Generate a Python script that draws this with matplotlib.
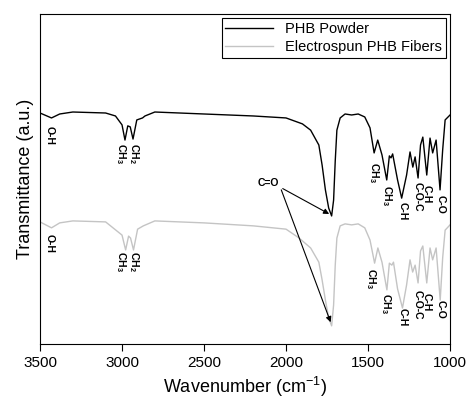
import matplotlib
matplotlib.use("Agg")
import matplotlib.pyplot as plt

plt.rcParams["font.family"] = ["Liberation Sans", "DejaVu Sans"]
plt.rcParams["mathtext.fontset"] = "custom"
plt.rcParams["mathtext.rm"] = "Liberation Sans"
plt.rcParams["mathtext.bf"] = "Liberation Sans:bold"

# ---------------- Data ----------------
wn_powder = [3500, 3430, 3380, 3300, 3100, 3040, 3000, 2982, 2965, 2950, 2933, 2910,
             2875, 2860, 2800, 2500, 2200, 2000, 1900, 1850, 1800, 1780, 1760, 1740,
             1722, 1710, 1700, 1690, 1670, 1640, 1600, 1560, 1520, 1488, 1463, 1441,
             1415, 1386, 1370, 1360, 1350, 1320, 1295, 1265, 1244, 1227, 1213, 1195,
             1180, 1166, 1142, 1122, 1106, 1085, 1061, 1045, 1030, 1000]
t_powder = [70.0, 68.5, 69.7, 70.3, 70.0, 69.1, 66.4, 61.8, 66.1, 65.8, 62.1, 67.9,
            68.5, 69.1, 70.3, 69.7, 69.1, 68.5, 66.7, 64.8, 60.3, 54.2, 46.7, 41.2,
            38.8, 43.6, 55.5, 64.8, 68.5, 69.7, 69.4, 69.7, 68.8, 65.5, 57.9, 61.8,
            57.3, 49.7, 57.0, 56.4, 57.6, 49.7, 44.2, 51.2, 58.2, 53.6, 56.7, 50.3,
            60.3, 62.7, 51.2, 62.4, 57.9, 61.8, 46.7, 58.8, 67.9, 69.4]

wn_fibers = [3500, 3430, 3380, 3300, 3100, 3000, 2978, 2960, 2948, 2930, 2905, 2870,
             2800, 2500, 2200, 2000, 1920, 1850, 1800, 1780, 1760, 1740, 1722, 1710,
             1700, 1690, 1670, 1640, 1600, 1560, 1520, 1488, 1460, 1440, 1415, 1385,
             1370, 1355, 1345, 1320, 1290, 1265, 1244, 1228, 1213, 1195, 1180, 1166,
             1142, 1122, 1106, 1085, 1060, 1045, 1030, 1000]
t_fibers = [37.0, 35.2, 36.7, 37.3, 37.0, 33.0, 28.5, 32.7, 32.1, 28.5, 34.8, 35.8,
            37.3, 36.7, 35.8, 34.8, 32.1, 29.1, 24.8, 19.4, 13.3, 7.9, 5.5, 11.8,
            23.9, 32.1, 35.8, 36.4, 36.1, 36.4, 35.2, 31.5, 24.5, 29.1, 24.8, 16.4,
            24.5, 23.9, 24.8, 16.7, 10.9, 17.9, 25.5, 21.8, 23.9, 18.5, 28.2, 29.7,
            18.5, 29.1, 25.5, 29.1, 13.3, 26.1, 34.5, 36.1]

# band labels: (text, wavenumber, y of label top)
labels_powder = [("O-H", 3440, 66.1), ("CH$_\\mathbf{3}$", 3008, 60.9),
                 ("CH$_\\mathbf{2}$", 2925, 60.9), ("CH$_\\mathbf{3}$", 1463, 55.2),
                 ("CH$_\\mathbf{3}$", 1385, 48.2), ("C-H", 1290, 43.0),
                 ("C-O-C", 1195, 49.1), ("C-H", 1140, 48.2), ("C-O", 1060, 45.2)]
labels_fibers = [("O-H", 3440, 33.3), ("CH$_\\mathbf{3}$", 3008, 28.2),
                 ("CH$_\\mathbf{2}$", 2925, 28.2), ("CH$_\\mathbf{3}$", 1480, 23.0),
                 ("CH$_\\mathbf{3}$", 1390, 15.5), ("C-H", 1290, 10.9),
                 ("C-O-C", 1195, 16.4), ("C-H", 1140, 15.5), ("C-O", 1055, 13.3)]

xticks = [3500, 3000, 2500, 2000, 1500, 1000]

# ---------------- Plot ----------------
fig = plt.figure(figsize=(4.67, 4.0), dpi=100)
ax = fig.add_axes([0.0857, 0.14, 0.878, 0.825])

ax.plot(wn_powder, t_powder, color="black", lw=1.0, label="PHB Powder")
ax.plot(wn_fibers, t_fibers, color="#c4c4c4", lw=1.0, label="Electrospun PHB Fibers")

for txt, x, y in labels_powder + labels_fibers:
    ax.text(x, y, txt, rotation=270, ha="center", va="top",
            fontsize=7.5, fontweight="bold")

# C=O label with two arrows
ax.text(2110, 48.8, "C=O", ha="center", va="center", fontsize=7.5, fontweight="bold")
arrow = dict(arrowstyle="-|>", color="black", lw=0.8, mutation_scale=8)
ax.annotate("", xy=(1722, 39.0), xytext=(2035, 47.5), arrowprops=arrow)
ax.annotate("", xy=(1722, 5.8), xytext=(2035, 47.5), arrowprops=arrow)

ax.set_xlim(3500, 1000)
ax.set_ylim(0, 100)
ax.set_xticks(xticks)
ax.set_yticks([])
ax.tick_params(axis="x", direction="out", labelsize=11, length=5)
ax.set_xlabel("Wavenumber (cm$^{-1}$)", fontsize=13)
ax.set_ylabel("Transmittance (a.u.)", fontsize=13)

leg = ax.legend(loc="upper right", fontsize=10.5, fancybox=False, framealpha=1,
                edgecolor="black", handlelength=3.3, borderaxespad=0.3,
                borderpad=0.25, labelspacing=0.3)
leg.get_frame().set_linewidth(0.8)

fig.savefig("out.png", dpi=100)
